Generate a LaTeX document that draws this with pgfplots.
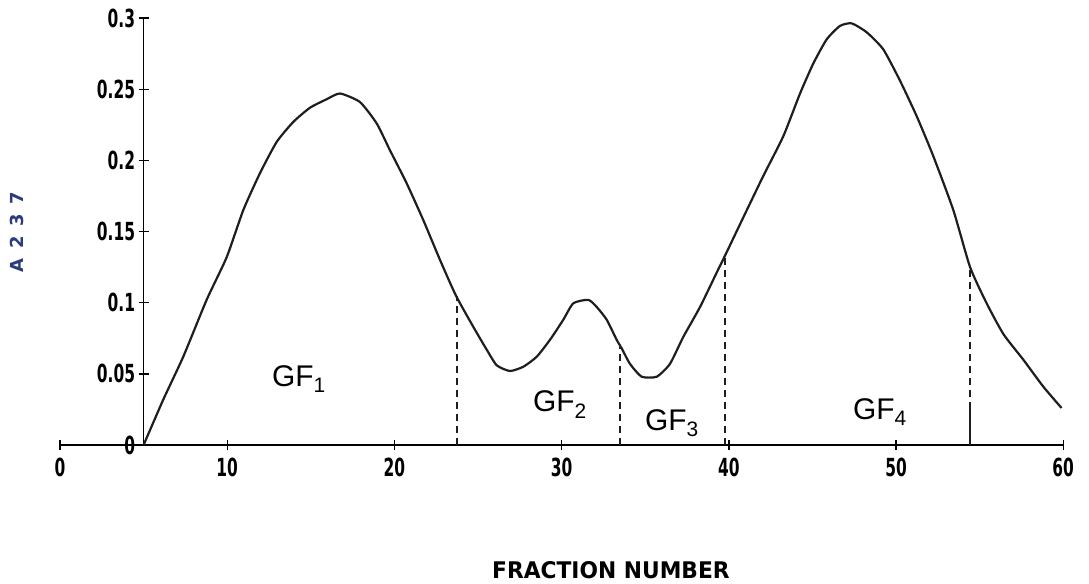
\documentclass[border=0pt]{standalone}
\usepackage{fontspec}
\usepackage{pgfplots}
\usepackage{pgfplotstable}
\pgfplotsset{compat=1.18}
\setmainfont{DejaVu Sans}
\newfontfamily\tickfont{DejaVu Sans}[FakeStretch=0.62]
\newfontfamily\labfont{DejaVu Sans}[FakeStretch=0.95]
\newfontfamily\ylabfont{DejaVu Sans}[LetterSpace=55]
\newfontfamily\handfont{Liberation Sans}
\definecolor{curve}{HTML}{1E1E1E}
\definecolor{ylab}{HTML}{2B3C7E}

\pgfplotstableread{
x y
5 0
6.18 0.032
7.37 0.062
8.77 0.102
9.97 0.132
10.96 0.165
11.96 0.191
12.96 0.213
13.95 0.227
14.95 0.237
15.95 0.243
16.75 0.247
17.94 0.241
18.94 0.226
19.74 0.207
20.73 0.184
21.73 0.158
22.73 0.130
23.68 0.105
24.72 0.083
25.52 0.067
26.12 0.056
26.91 0.052
27.71 0.055
28.51 0.062
29.31 0.074
30.10 0.088
30.70 0.0996
31.60 0.102
32.10 0.097
32.70 0.088
33.29 0.074
33.59 0.068
34.09 0.057
34.79 0.048
35.69 0.048
36.48 0.057
37.28 0.076
38.28 0.097
39.27 0.121
39.77 0.133
40.87 0.160
42.06 0.189
43.26 0.217
44.26 0.247
45.05 0.268
45.85 0.285
46.65 0.2945
47.35 0.2963
48.25 0.290
49.24 0.278
50.24 0.256
51.24 0.231
52.23 0.203
53.43 0.165
54.43 0.125
55.42 0.0996
56.42 0.078
57.61 0.060
58.81 0.041
59.90 0.026
}\elution

\begin{document}
\begin{tikzpicture}
\path[use as bounding box] (-60bp,-139bp) rectangle (1029bp,445bp);
% x axis
\begin{axis}[
  at={(0,0)}, anchor=south west,
  x=16.72bp, y=1423bp,
  xmin=0, xmax=60, ymin=0, ymax=0.3,
  axis x line=bottom, axis y line=none,
  axis line style={-, line width=1.6bp, black},
  xtick={0,10,...,60}, xticklabels={0,10,20,30,40,50,60},
  xtick align=center, major tick length=10bp,
  tick style={line width=1.4bp, black},
  xticklabel style={font=\tickfont\bfseries\fontsize{25}{25}\selectfont, black, yshift=-4bp},
  clip=false,
]
\node[font=\labfont\bfseries\fontsize{23}{23}\selectfont] at (axis cs:32.95,-0.0878) {FRACTION NUMBER};
\node[font=\ylabfont\bfseries\fontsize{18}{18}\selectfont, text=ylab, rotate=90] at (axis cs:-2.57,0.1497) {A237};
\node[font=\handfont\fontsize{30}{30}\selectfont, anchor=base west, inner sep=0] at (axis cs:12.68,0.0408) {GF\textsubscript{1}};
\node[font=\handfont\fontsize{30}{30}\selectfont, anchor=base west, inner sep=0] at (axis cs:28.29,0.0232) {GF\textsubscript{2}};
\node[font=\handfont\fontsize{30}{30}\selectfont, anchor=base west, inner sep=0] at (axis cs:34.99,0.0105) {GF\textsubscript{3}};
\node[font=\handfont\fontsize{30}{30}\selectfont, anchor=base west, inner sep=0] at (axis cs:47.43,0.0176) {GF\textsubscript{4}};
\end{axis}
% y axis and data
\begin{axis}[
  at={(83.6bp,0)}, anchor=south west,
  x=16.72bp, y=1423bp,
  xmin=5, xmax=60, ymin=0, ymax=0.3,
  axis y line=left, axis x line=none,
  axis line style={-, line width=1.6bp, black},
  ytick={0,0.05,0.1,0.15,0.2,0.25,0.3},
  yticklabels={0,0.05,0.1,0.15,0.2,0.25,0.3},
  ytick align=center, major tick length=10bp,
  tick style={line width=1.4bp, black},
  yticklabel style={font=\tickfont\bfseries\fontsize{25}{25}\selectfont, black},
  clip=false,
]
\addplot[curve, line width=2.2bp, line join=round, smooth, tension=0.35] table[x=x, y=y] {\elution};
\addplot[curve, line width=1.8bp, dash pattern=on 7bp off 5bp] coordinates {(23.75,0) (23.75,0.105)};
\addplot[curve, line width=1.8bp, dash pattern=on 7bp off 5bp] coordinates {(33.5,0) (33.5,0.069)};
\addplot[curve, line width=1.8bp, dash pattern=on 7bp off 5bp] coordinates {(39.77,0) (39.77,0.133)};
\addplot[curve, line width=1.8bp] coordinates {(54.43,0) (54.43,0.025)};
\addplot[curve, line width=1.8bp, dash pattern=on 7bp off 5bp] coordinates {(54.43,0.025) (54.43,0.125)};
\end{axis}
\end{tikzpicture}
\end{document}
